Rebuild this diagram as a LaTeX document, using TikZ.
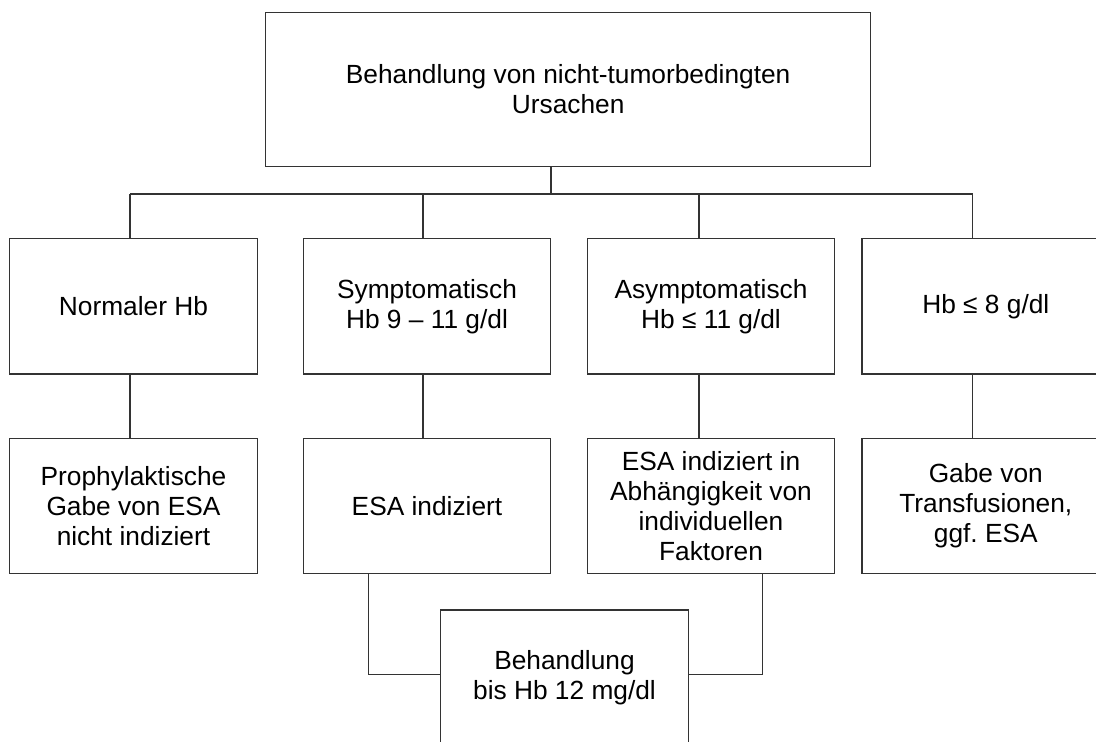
\documentclass[tikz,border=0pt]{standalone}
\usepackage{fontspec}
\setmainfont{Liberation Sans}
\frenchspacing

\begin{document}
\begin{tikzpicture}[x=1pt, y=-1pt,
    box/.style={draw=black!80, line width=1.2pt, fill=white,
                minimum width=247.6pt, minimum height=135.5pt, inner sep=0pt,
                align=center, font=\fontsize{26.3}{30}\selectfont},
    link/.style={draw=black!80, line width=1.2pt}
]
% page frame (right box and last box run off the page)
\clip (0,0) rectangle (1096,742);

% Top: main treatment box
\node[box, minimum width=605pt, minimum height=154pt] (top) at (568.2,89.5)
    {Behandlung von nicht-tumorbedingten\\Ursachen};

% Middle row: patient groups
\node[box] (m1) at (133.5,306.2) {Normaler Hb};
\node[box] (m2) at (427,306.2) {Symptomatisch\\Hb 9 -- 11 g/dl};
\node[box] (m3) at (711,306.2) {Asymptomatisch\\Hb ≤ 11 g/dl};
\node[box] (m4) at (985.8,306.2) {Hb ≤ 8 g/dl};

% Bottom row: recommendations
\node[box] (b1) at (133.5,506) {Prophylaktische\\Gabe von ESA\\nicht indiziert};
\node[box] (b2) at (427,506) {ESA indiziert};
\node[box] (b3) at (711,506) {ESA indiziert in\\Abhängigkeit von\\individuellen\\Faktoren};
\node[box] (b4) at (985.8,506) {Gabe von\\Transfusionen,\\ggf.\ ESA};

% Final target box
\node[box] (fin) at (564.5,677.8) {Behandlung\\bis Hb 12 mg/dl};

% Bus from the top box to the groups
\coordinate (bus) at (551,194);
\draw[link] (bus |- top.south) -- (bus);
\coordinate (d1) at (130,194);
\coordinate (d4) at (972.7,194);
\draw[link] (d1) -- (d4);
\foreach \i/\x in {1/130,2/423,3/699,4/972.7} {
  \coordinate (d\i) at (\x,194);
  \draw[link] (d\i) -- (d\i |- m\i.north);
  \draw[link] (d\i |- m\i.south) -- (d\i |- b\i.north);
}

% Joins into the final box
\coordinate (jl) at (368.3,674.3);
\coordinate (jr) at (762.3,674.3);
\draw[link] (jl |- b2.south) -- (jl) -- (jl -| fin.west);
\draw[link] (jr |- b3.south) -- (jr) -- (jr -| fin.east);

\end{tikzpicture}
\end{document}
